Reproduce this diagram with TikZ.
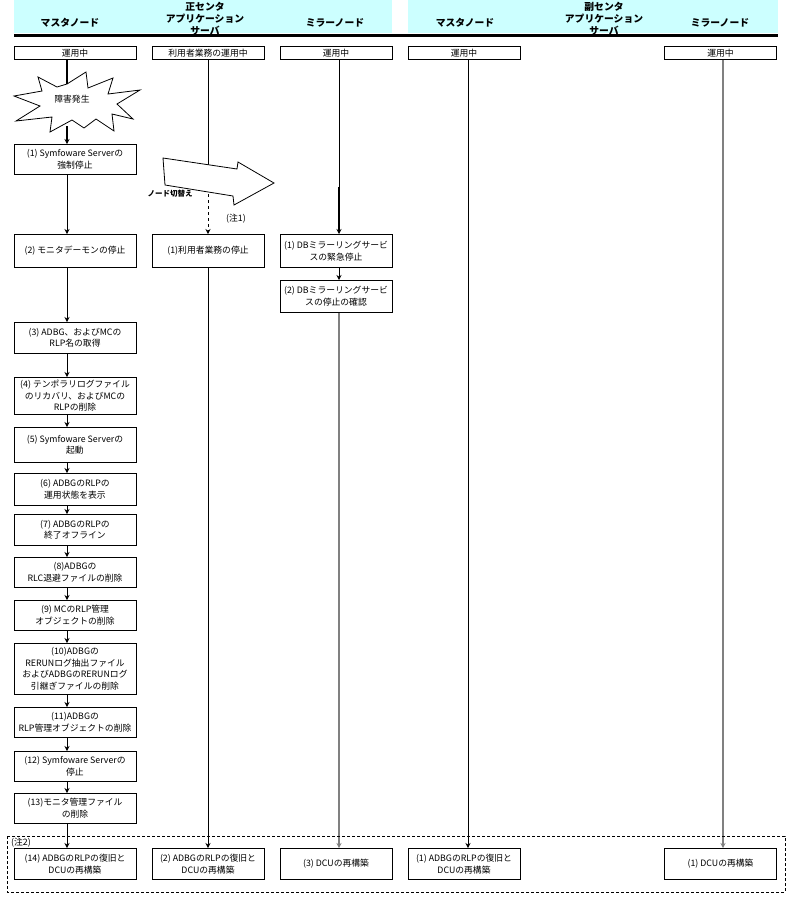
\documentclass[tikz,border=0pt]{standalone}
\usepackage{xcolor}
\usepackage{fontspec}
\setmainfont{Noto Sans CJK JP}
\usepackage{tikz}
\usetikzlibrary{arrows, arrows.meta, positioning}

\definecolor{headbg}{RGB}{204,255,255}
\definecolor{mirrorline}{RGB}{128,128,128}

\begin{document}
\begin{tikzpicture}[x=1pt, y=-1pt, >={Stealth[length=5pt,width=5pt]}, line width=0.8pt, font=\fontsize{8.8}{11.6}\selectfont]
    \tikzstyle{statebox} = [rectangle, draw=black, minimum height=13pt, inner sep=0pt, anchor=north, text centered]
    \tikzstyle{stepbox} = [rectangle, draw=black, inner sep=0pt, anchor=north, align=center]
    \tikzstyle{arrow} = [->]
    \tikzstyle{heavy} = [line width=1.6pt]
    \tikzstyle{grayline} = [mirrorline, line width=1.5pt]
    \tikzstyle{headtext} = [font=\fontsize{9.8}{12}\selectfont\bfseries, align=center]

    \useasboundingbox (0,0) rectangle (793,906);

    % header
    \fill[headbg] (14,0) rectangle (392,33);
    \fill[headbg] (408,0) rectangle (778,33);
    \node (hmaster) [headtext] at (70,23) {マスタノード};
    \node (happ) [headtext] at (205,19) {正センタ\\アプリケーション\\サーバ};
    \node (hmirror) [headtext] at (335,23) {ミラーノード};
    \node (hmaster2) [headtext] at (465,23) {マスタノード};
    \node (happ2) [headtext] at (604,19) {副センタ\\アプリケーション\\サーバ};
    \node (hmirror2) [headtext] at (720,23) {ミラーノード};
    \draw[line width=3pt] (14,35) -- (778,35);

    % running state
    \node (m0) [statebox, minimum width=122pt] at (75,46) {運用中};
    \node (a0) [statebox, minimum width=112pt] at (208,46) {利用者業務の運用中};
    \node (r0) [statebox, minimum width=112pt] at (336,46) {運用中};
    \node (m0b) [statebox, minimum width=112pt] at (464,46) {運用中};
    \node (r0b) [statebox, minimum width=112pt] at (720.5,46) {運用中};

    % fault
    \draw[fill=white] (67,84) -- (86,72) -- (88,88) -- (113,78) -- (108,94) -- (140,90) -- (117,104)
        -- (133,119) -- (112,114) -- (114,131) -- (96,119) -- (84,128) -- (72,120) -- (50,132)
        -- (52,117) -- (16,121) -- (40,106) -- (14,96) -- (42,91) -- (38,77) -- (57,87) -- cycle;
    \node (fault) at (72,99) {障害発生};
    \coordinate (bursttop) at (67,84);
    \coordinate (burstbot) at (67,126);

    % master node steps
    \node (m1) [stepbox, minimum width=122pt, minimum height=30pt] at (75,144) {(1) Symfoware Serverの\\強制停止};
    \node (m2) [stepbox, minimum width=122pt, minimum height=33pt] at (75,234) {(2) モニタデーモンの停止};
    \node (m3) [stepbox, minimum width=122pt, minimum height=31pt] at (75,322) {(3) ADBG、およびMCの\\RLP名の取得};
    \node (m4) [stepbox, minimum width=122pt, minimum height=37pt] at (75,377) {(4) テンポラリログファイル\\のリカバリ、およびMCの\\RLPの削除};
    \node (m5) [stepbox, minimum width=122pt, minimum height=35pt] at (75,427) {(5) Symfoware Serverの\\起動};
    \node (m6) [stepbox, minimum width=122pt, minimum height=32pt] at (75,473) {(6) ADBGのRLPの\\運用状態を表示};
    \node (m7) [stepbox, minimum width=122pt, minimum height=31pt] at (75,514) {(7) ADBGのRLPの\\終了オフライン};
    \node (m8) [stepbox, minimum width=122pt, minimum height=30pt] at (75,557) {(8)ADBGの\\RLC退避ファイルの削除};
    \node (m9) [stepbox, minimum width=122pt, minimum height=30pt] at (75,600) {(9) MCのRLP管理\\オブジェクトの削除};
    \node (m10) [stepbox, minimum width=122pt, minimum height=51pt] at (75,643) {(10)ADBGの\\RERUNログ抽出ファイル\\およびADBGのRERUNログ\\引継ぎファイルの削除};
    \node (m11) [stepbox, minimum width=122pt, minimum height=30pt] at (75,707) {(11)ADBGの\\RLP管理オブジェクトの削除};
    \node (m12) [stepbox, minimum width=122pt, minimum height=30pt] at (75,751) {(12) Symfoware Serverの\\停止};
    \node (m13) [stepbox, minimum width=122pt, minimum height=30pt] at (75,793) {(13)モニタ管理ファイル\\の削除};
    \node (m14) [stepbox, minimum width=122pt, minimum height=31pt] at (75,848) {(14) ADBGのRLPの復旧と\\DCUの再構築};

    % application server and mirror node steps
    \node (a1) [stepbox, minimum width=112pt, minimum height=33pt] at (208,234) {(1)利用者業務の停止};
    \node (a2) [stepbox, minimum width=112pt, minimum height=31pt] at (208,848) {(2) ADBGのRLPの復旧と\\DCUの再構築};
    \node (r1) [stepbox, minimum width=112pt, minimum height=33pt] at (336,234) {(1) DBミラーリングサービ\\スの緊急停止};
    \node (r2) [stepbox, minimum width=112pt, minimum height=32pt] at (336,280) {(2) DBミラーリングサービ\\スの停止の確認};
    \node (r3) [stepbox, minimum width=112pt, minimum height=31pt] at (336,848) {(3) DCUの再構築};
    \node (mb1) [stepbox, minimum width=112pt, minimum height=31pt] at (464,848) {(1) ADBGのRLPの復旧と\\DCUの再構築};
    \node (rb1) [stepbox, minimum width=112pt, minimum height=31pt] at (720.5,848) {(1) DCUの再構築};

    % master node flow
    \draw [heavy] ([xshift=-8pt]m0.south) -- (bursttop);
    \draw [heavy, arrow] (burstbot) -- ([xshift=-8pt]m1.north);
    \foreach \a/\b in {m1/m2, m2/m3, m3/m4, m4/m5, m5/m6, m6/m7, m7/m8, m8/m9, m9/m10, m10/m11, m11/m12, m12/m13, m13/m14}
        \draw [arrow] ([xshift=-8pt]\a.south) -- ([xshift=-8pt]\b.north);

    % application server flow
    \coordinate (appcut) at (208,188);
    \draw (a0.south) -- (appcut);
    \draw [arrow, dashed] (appcut) -- (a1.north);
    \draw [arrow] (a1.south) -- (a2.north);

    % node switch
    \draw[fill=white] (163,158) -- (237,169) -- (238,162) -- (274,183) -- (234,205) -- (233,196) -- (165,185) -- cycle;
    \node (switch) [font=\fontsize{7.5}{10}\selectfont\bfseries] at (170,194) {ノード切替え};
    \node (note1) at (236,219) {(注1)};

    % mirror node flow
    \coordinate (mircut) at (339,187);
    \draw ([xshift=3pt]r0.south) -- (mircut);
    \draw [heavy, arrow] (mircut) -- ([xshift=3pt]r1.north);
    \draw [arrow] ([xshift=3pt]r1.south) -- ([xshift=3pt]r2.north);
    \draw [arrow, grayline] ([xshift=3pt]r2.south) -- ([xshift=3pt]r3.north);

    % standby center
    \draw [arrow] ([xshift=4pt]m0b.south) -- ([xshift=4pt]mb1.north);
    \draw [arrow, grayline] ([xshift=2.5pt]r0b.south) -- ([xshift=2.5pt]rb1.north);

    % note 2
    \draw[dash pattern=on 3pt off 2pt] (7,836) rectangle (785,892);
    \node (note2) at (21,843) {(注2)};
\end{tikzpicture}
\end{document}
